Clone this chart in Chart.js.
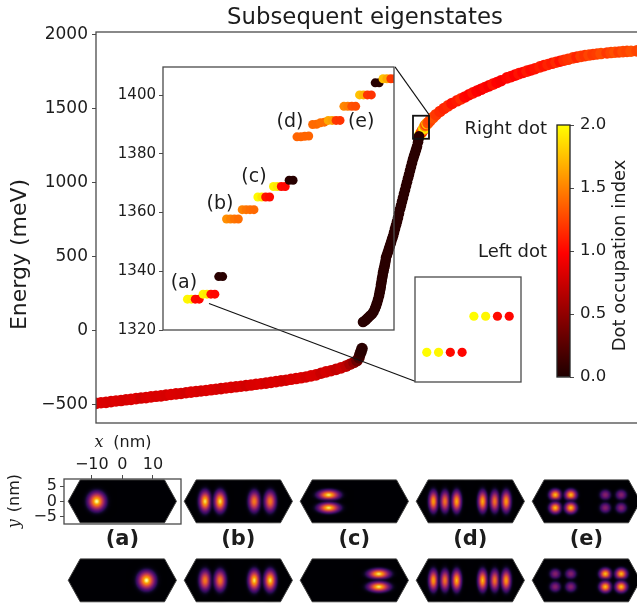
<!DOCTYPE html>
<html>
<head>
<meta charset="utf-8">
<title>Subsequent eigenstates</title>
<script src="https://cdn.jsdelivr.net/npm/chart.js@4"></script>
<style>
html, body { margin:0; padding:0; background:#fff; overflow:hidden; }
#stage { position:relative; width:637px; height:606px; overflow:hidden; }
#stage canvas { position:absolute; }
</style>
</head>
<body>
<div id="stage"></div>
<script>
// ── Main curve: state index, energy (meV), occupation index ──
var lowerIdx = [0,5,10,15,20,25,30,35,40,45,50,55,60,65,70,75,80,85,90,95,100,105,110,115,120,125,130,135,140,145,150,155,160,165,170,175,180,185,190,195,200,205,210,215,220,225,230,235,240,245,250,254,258,261,263,264,265,266];
var lowerEnergy = [-495,-491,-488,-483,-479,-476,-471,-468,-463,-459,-456,-451,-447,-444,-439,-435,-431,-428,-423,-419,-415,-411,-408,-403,-399,-395,-391,-387,-383,-379,-375,-371,-366,-362,-358,-353,-348,-343,-338,-332,-327,-322,-316,-309,-302,-291,-282,-274,-265,-255,-243,-230,-218,-205,-185,-163,-145,-124];
var lowerOcc = [.82,.83,.82,.81,.83,.82,.8,.82,.83,.78,.82,.83,.81,.82,.8,.83,.82,.81,.79,.83,.82,.8,.82,.83,.81,.79,.82,.83,.8,.82,.78,.81,.82,.83,.79,.81,.82,.8,.78,.82,.81,.83,.79,.82,.8,.75,.8,.78,.72,.76,.7,.6,.5,.35,.2,.1,.06,.05];

var riseIdx = [267,268.5,270,272,274,276,277.5,279,280,281,
    282,283,283.5,284,284.7,285,285.6,286,286.6,287,
    287.6,288,288.6,289,289.6,290,291,292,293,294,
    295,296,297,298,299,300,301,302,303,304,
    305,306,307,308,309,310,311,312,313,314,
    315,316,317,318,319,320,321,322,322.5,323];
var riseEnergy = [56,62,72,85,98,110,125,148,165,185,
    208,232,250,270,290,310,330,350,370,390,
    405,420,435,450,470,493,512,532,553,574,
    595,616,637,662,688,712,737,762,790,820,
    845,872,898,925,950,977,1003,1030,1055,1082,
    1108,1132,1158,1180,1200,1222,1245,1274,1295,1314];
var riseOcc = [.05,.05,.05,.05,.05,.05,.05,.05,.05,.05,
    .05,.05,.05,.05,.05,.05,.05,.05,.05,.05,
    .05,.05,.05,.05,.05,.05,.05,.05,.05,.05,
    .05,.05,.05,.05,.05,.05,.05,.05,.05,.05,
    .05,.05,.05,.05,.05,.05,.05,.05,.05,.05,
    .05,.05,.05,.05,.05,.05,.05,.05,.05,.05];

var upperIdx = [324,325,326,327,328,329,330,331,332,334,337,340,344,348,352,356,361,365,369,373,377,381,385,389,393,397,401,405,411,415,419,423,427,431,435,439,444,448,452,456,460,464,468,472,477,481,485,489,493,497,501,505,511,515,519,523,527,531,535,541,546,552];
var upperEnergy = [1325,1333,1345,1357,1368,1385,1392,1400,1405,1420,1440,1460,1482,1502,1520,1536,1554,1567,1580,1595,1608,1620,1632,1644,1655,1667,1678,1690,1709,1718,1728,1738,1746,1755,1763,1771,1784,1792,1800,1808,1815,1822,1829,1835,1845,1850,1855,1860,1864,1868,1871,1874,1878,1881,1883,1885,1887,1889,1890,1892,1896,1900];
var upperOcc = [1.95,1.9,1.0,1.5,1.9,1.5,1.25,1.75,1.3,1.25,1.3,1.2,1.15,1.12,1.15,1.05,1.08,1.15,1.0,.98,1.05,.98,.95,1.0,.95,1.05,.98,.95,1.0,1.02,.97,1.05,1.0,1.08,1.02,1.05,1.1,1.05,1.12,1.08,1.15,1.05,1.15,1.18,1.2,1.12,1.22,1.18,1.25,1.2,1.22,1.28,1.2,1.25,1.3,1.22,1.28,1.25,1.3,1.25,1.3,1.25];

var energyTicks = [-500,0,500,1000,1500,2000];

// ── Zoom inset: consecutive states around 1330–1405 meV ──
var zoomIdx = [6,7,8,9,10,11,12,13,14,15,16,17,18,19,20,21,22,23,24,25,26,27,28,29,30,31,32,33,34,35,36,37,38,39,40,41,42,43,44,45,46,47,48,49,50,51,52,53,54,55,56,57,58,59];
var zoomEnergy = [1330.5,1330.5,1330.5,1330.5,1332.2,1332.2,1332.2,1332.2,1338.2,1338.2,1357.8,1357.8,1357.8,1357.8,1361,1361,1361,1361,1365.3,1365.3,1365.3,1365.3,1368.9,1368.9,1368.9,1368.9,1371,1371,1385.8,1385.8,1386,1386.1,1390,1390.1,1390.6,1390.8,1391.4,1391.4,1391.4,1391.4,1396.2,1396.2,1396.2,1396.2,1400.1,1400.1,1400.1,1400.1,1404.2,1404.2,1405.6,1405.6,1405.6,1405.6];
var zoomOcc = [1.97,1.95,1.02,1.0,1.95,1.92,1.03,1.0,.05,.05,1.55,1.5,1.45,1.42,1.5,1.45,1.42,1.4,1.98,1.9,1.05,1.02,1.95,1.9,1.02,1.0,.04,.04,1.38,1.38,1.38,1.38,1.4,1.4,1.42,1.42,1.65,1.62,1.2,1.18,1.52,1.48,1.3,1.28,1.75,1.7,1.2,1.18,.04,.04,1.75,1.65,1.22,1.2];
var zoomTicks = [1320,1340,1360,1380,1400];

// ── Second inset: the eight states of (a) ──
var pairIdx = [0,1,2,3,4,5,6,7];
var pairEnergy = [1330.5,1330.5,1330.5,1330.5,1332.2,1332.2,1332.2,1332.2];
var pairOcc = [1.99,1.97,1.02,1.0,1.99,1.97,1.02,1.0];

var colorbarTicks = [0,0.5,1,1.5,2];
var panelXTicks = [-10,0,10];
var panelYTicks = [-5,0,5];

// ── Density lobes of each panel: x (nm), y (nm), peak ──
var hexagon = [[-17.7,0],[-13.8,7],[13.8,7],[17.7,0],[13.8,-7],[-13.8,-7],[-17.7,0]];
var lobesA1 = [[-8.4,0,1]];
var lobesA2 = [[7.9,0,1]];
var lobesB1 = [[-10.9,0,.97],[-6,0,.97],[5.2,0,.8],[10.4,0,.8]];
var lobesB2 = [[-10.9,0,.8],[-6,0,.8],[5.2,0,.97],[10.4,0,.97]];
var lobesC1 = [[-8.4,2.1,.98],[-8.4,-2.1,.98]];
var lobesC2 = [[8,2.1,.98],[8,-2.1,.98]];
var lobesD1 = [[-12.1,0,.88],[-8.3,0,.78],[-4.5,0,.9],[4,0,.9],[8,0,.78],[11.7,0,.88]];
var lobesD2 = [[-12.1,0,.88],[-8.3,0,.78],[-4.5,0,.92],[4,0,.92],[8,0,.78],[11.7,0,.88]];
var lobesE1 = [[-10.2,2.1,.93],[-5.1,2.1,.93],[-10.2,-2.1,.93],[-5.1,-2.1,.93],[6.2,2.1,.42],[11.4,2.1,.42],[6.2,-2.1,.42],[11.4,-2.1,.42]];
var lobesE2 = [[-10.2,2.1,.42],[-5.1,2.1,.42],[-10.2,-2.1,.42],[-5.1,-2.1,.42],[6.2,2.1,.93],[11.4,2.1,.93],[6.2,-2.1,.93],[11.4,-2.1,.93]];

Chart.defaults.font.family = "'DejaVu Sans'";
Chart.defaults.color = '#1c1c1c';
Chart.defaults.animation = false;
Chart.defaults.responsive = false;
Chart.defaults.layout.autoPadding = false;
Chart.defaults.plugins.legend.display = false;
Chart.defaults.plugins.tooltip.enabled = false;

var FRAME = '#4a4a4a';
var stage = document.getElementById('stage');

function minusSign(v) { return String(v).replace('-', '\u2212'); }

// colormap "hot" cortado en amarillo
function hotColor(v) {
    var r = v >= .98 ? 255 : Math.round(30 + 225 * v / .98);
    var g = v <= .98 ? 0 : Math.round(255 * (v - .98) / 1.02);
    return 'rgb(' + r + ',' + g + ',0)';
}

function pointsOf(xs, ys) {
    return xs.map(function(x, i) { return { x: x, y: ys[i] }; });
}

function addCanvas(left, top, w, h) {
    var c = document.createElement('canvas');
    c.width = w; c.height = h;
    c.style.left = left + 'px'; c.style.top = top + 'px';
    c.style.width = w + 'px'; c.style.height = h + 'px';
    stage.appendChild(c);
    return c;
}

function setTicks(values) {
    return function(scale) {
        scale.ticks = values.map(function(v) { return { value: v }; });
    };
}

// ── Plugins: frame round the axes, free text in data coordinates ──
function framePlugin(color) {
    return {
        id: 'frame',
        afterDatasetsDraw: function(chart) {
            var a = chart.chartArea, ctx = chart.ctx;
            ctx.save();
            ctx.strokeStyle = color; ctx.lineWidth = 1.3;
            ctx.strokeRect(a.left, a.top, a.right - a.left, a.bottom - a.top);
            ctx.restore();
        }
    };
}

function textPlugin(items) {
    return {
        id: 'texts',
        afterDatasetsDraw: function(chart) {
            var ctx = chart.ctx;
            items.forEach(function(t) {
                var px = chart.scales.x.getPixelForValue(t.x);
                var py = chart.scales.y.getPixelForValue(t.y);
                ctx.save();
                ctx.font = t.font;
                ctx.fillStyle = '#1c1c1c';
                ctx.textAlign = t.align || 'center';
                ctx.textBaseline = 'middle';
                ctx.translate(px, py);
                if (t.rot) ctx.rotate(t.rot);
                ctx.fillText(t.text, 0, 0);
                ctx.restore();
            });
        }
    };
}

// lupa y líneas guía sobre la curva principal
function lensPlugin() {
    var box = { x0: 317, x1: 333, y0: 1297, y1: 1453 };
    var guides = [
        [[299, 1784], [333, 1460]],
        [[113, 182], [319, -345]]
    ];
    return {
        id: 'lens',
        afterDatasetsDraw: function(chart) {
            var sx = chart.scales.x, sy = chart.scales.y, ctx = chart.ctx;
            ctx.save();
            ctx.strokeStyle = '#111'; ctx.lineWidth = 1.1;
            guides.forEach(function(g) {
                ctx.beginPath();
                ctx.moveTo(sx.getPixelForValue(g[0][0]), sy.getPixelForValue(g[0][1]));
                ctx.lineTo(sx.getPixelForValue(g[1][0]), sy.getPixelForValue(g[1][1]));
                ctx.stroke();
            });
            ctx.lineWidth = 1.8;
            ctx.strokeRect(sx.getPixelForValue(box.x0), sy.getPixelForValue(box.y1),
                sx.getPixelForValue(box.x1) - sx.getPixelForValue(box.x0),
                sy.getPixelForValue(box.y0) - sy.getPixelForValue(box.y1));
            ctx.restore();
        }
    };
}

function hiddenX(min, max) {
    return { type: 'linear', display: false, min: min, max: max };
}

function valueAxis(min, max, tickVals, labelSize, width, extra) {
    var axis = {
        type: 'linear', min: min, max: max,
        grid: { display: true, drawOnChartArea: false, drawTicks: true, tickLength: 4, color: FRAME, tickWidth: 1 },
        border: { display: false },
        ticks: { font: { size: labelSize }, padding: 3, autoSkip: false, maxRotation: 0, callback: minusSign },
        afterBuildTicks: setTicks(tickVals),
        afterFit: function(scale) { scale.width = width; }
    };
    for (var k in extra) axis[k] = extra[k];
    return axis;
}

// ── Chart principal ──
var mainAxis = valueAxis(-628, 2020, energyTicks, 17, 96);
mainAxis.ticks.padding = 4;
new Chart(addCanvas(0, 0, 730, 440), {
    type: 'scatter',
    data: { datasets: [
        { data: pointsOf(lowerIdx, lowerEnergy), pointBackgroundColor: lowerOcc.map(hotColor), pointRadius: 5.8, pointBorderWidth: 0, clip: 0 },
        { data: pointsOf(riseIdx, riseEnergy), pointBackgroundColor: riseOcc.map(hotColor), pointRadius: 5.3, pointBorderWidth: 0, clip: 0 },
        { data: pointsOf(upperIdx, upperEnergy), pointBackgroundColor: upperOcc.map(hotColor), pointRadius: 5.8, pointBorderWidth: 0, clip: 0 }
    ] },
    options: {
        layout: { padding: { top: 32, right: 80, bottom: 17 } },
        scales: {
            x: hiddenX(0, 554),
            y: mainAxis
        }
    },
    plugins: [framePlugin(FRAME), lensPlugin(), textPlugin([
        { x: 269, y: 2115, text: 'Subsequent eigenstates', font: "22.8px 'DejaVu Sans'" },
        { x: -76, y: 513, text: 'Energy (meV)', font: "22px 'DejaVu Sans'", rot: -Math.PI / 2 },
        { x: 451, y: 1360, text: 'Right dot', font: "18px 'DejaVu Sans'", align: 'right' },
        { x: 451, y: 528, text: 'Left dot', font: "18px 'DejaVu Sans'", align: 'right' },
        { x: 524, y: 507, text: 'Dot occupation index', font: "18px 'DejaVu Sans'", rot: -Math.PI / 2 }
    ])]
});

// ── Inset de zoom ──
new Chart(addCanvas(100, 52, 300, 291), {
    type: 'scatter',
    data: { datasets: [
        { data: pointsOf(zoomIdx, zoomEnergy), pointBackgroundColor: zoomOcc.map(hotColor), pointRadius: 4.5, pointBorderWidth: 0, clip: 0 }
    ] },
    options: {
        layout: { padding: { top: 15, right: 6, bottom: 13 } },
        scales: {
            x: hiddenX(-0.25, 58.8),
            y: valueAxis(1320, 1409.6, zoomTicks, 15, 63)
        }
    },
    plugins: [framePlugin(FRAME), textPlugin([
        { x: 5.1, y: 1336, text: '(a)', font: "19px 'DejaVu Sans'" },
        { x: 14.3, y: 1362.9, text: '(b)', font: "19px 'DejaVu Sans'" },
        { x: 23, y: 1372.1, text: '(c)', font: "19px 'DejaVu Sans'" },
        { x: 32.2, y: 1390.9, text: '(d)', font: "19px 'DejaVu Sans'" },
        { x: 50.4, y: 1390.9, text: '(e)', font: "19px 'DejaVu Sans'" }
    ])]
});

// ── Inset de los cuatro pares ──
new Chart(addCanvas(413, 275, 110, 109), {
    type: 'scatter',
    data: { datasets: [
        { data: pointsOf(pairIdx, pairEnergy), pointBackgroundColor: pairOcc.map(hotColor), pointRadius: 4.6, pointBorderWidth: 0 }
    ] },
    options: {
        layout: { padding: { top: 2, right: 2, bottom: 2, left: 2 } },
        scales: {
            x: hiddenX(-1, 8),
            y: { type: 'linear', display: false, min: 1329.1, max: 1334.05 }
        }
    },
    plugins: [framePlugin(FRAME)]
});

// ── Barra de color ──
new Chart(addCanvas(545, 105, 92, 292), {
    type: 'bar',
    data: { labels: ['occupation'], datasets: [{
        data: [[0, 2]],
        barPercentage: 1, categoryPercentage: 1,
        backgroundColor: function(ctx) {
            var a = ctx.chart.chartArea;
            if (!a) return '#000';
            var g = ctx.chart.ctx.createLinearGradient(0, a.bottom, 0, a.top);
            g.addColorStop(0, hotColor(0));
            g.addColorStop(.49, hotColor(.98));
            g.addColorStop(1, hotColor(2));
            return g;
        }
    }] },
    options: {
        layout: { padding: { top: 20, left: 12, bottom: 20 } },
        scales: {
            x: { type: 'category', display: false },
            y: (function() {
                var axis = valueAxis(0, 2, colorbarTicks, 16.5, 67, { position: 'right' });
                axis.ticks.padding = 6;
                axis.ticks.callback = function(v) { return v.toFixed(1); };
                return axis;
            })()
        }
    },
    plugins: [framePlugin('#222')]
});

// ── Paneles de densidad ──
var infernoStops = [[0,0,0,4],[.13,27,12,65],[.25,74,12,107],[.38,120,28,109],[.5,165,44,96],[.63,207,68,70],[.75,237,105,37],[.88,251,155,6],[.95,247,209,61],[1,252,255,164]];

function inferno(t) {
    for (var i = 1; i < infernoStops.length; i++) {
        if (t <= infernoStops[i][0]) {
            var a = infernoStops[i - 1], b = infernoStops[i], f = (t - a[0]) / (b[0] - a[0]);
            return [a[1] + (b[1] - a[1]) * f, a[2] + (b[2] - a[2]) * f, a[3] + (b[3] - a[3]) * f];
        }
    }
    return infernoStops[infernoStops.length - 1].slice(1);
}

// sprite gaussiano para usar como pointStyle
function lobeSprite(peak, sx, sy) {
    var w = Math.ceil(sx * 7) | 1, h = Math.ceil(sy * 7) | 1;
    var c = document.createElement('canvas');
    c.width = w; c.height = h;
    var g = c.getContext('2d'), img = g.createImageData(w, h);
    for (var j = 0; j < h; j++) {
        for (var i = 0; i < w; i++) {
            var dx = (i - (w - 1) / 2) / sx, dy = (j - (h - 1) / 2) / sy;
            var v = peak * Math.exp(-(dx * dx + dy * dy) / 2);
            var col = inferno(v), o = (j * w + i) * 4;
            img.data[o] = col[0]; img.data[o + 1] = col[1]; img.data[o + 2] = col[2];
            img.data[o + 3] = Math.min(255, v * 1500);
        }
    }
    g.putImageData(img, 0, 0);
    return c;
}

var NM_X = 3.05, NM_Y = 3.07;

function addPanel(cx, areaTop, lobes, sxNm, syNm, label, withAxes) {
    var areaW = 117, areaH = 45, labelH = label ? 30 : 2;
    var left = withAxes ? 0 : Math.round(cx - areaW / 2);
    var top = withAxes ? areaTop - 49 : areaTop;
    var w = withAxes ? Math.round(cx + areaW / 2) + 3 : areaW + 1;
    var h = (withAxes ? 49 : 0) + areaH + labelH;
    var scalesCfg;
    var texts = [];
    if (label) texts.push({ x: 0, y: -12.6, text: label, font: "bold 21px 'DejaVu Sans'" });
    if (withAxes) {
        scalesCfg = {
            x: {
                type: 'linear', position: 'top', min: -19.1, max: 19.2,
                grid: { display: true, drawOnChartArea: false, tickLength: 4, color: FRAME },
                border: { display: false },
                ticks: { font: { size: 16 }, padding: 1, autoSkip: false, maxRotation: 0, callback: minusSign },
                afterBuildTicks: setTicks(panelXTicks),
                afterFit: function(s) { s.height = 49; }
            },
            y: valueAxis(-7.4, 7.3, panelYTicks, 16, 64)
        };
        texts.push({ x: -7.6, y: 19, text: 'x', font: "italic 16px 'DejaVu Serif'" });
        texts.push({ x: 3.3, y: 19, text: '(nm)', font: "16px 'DejaVu Sans'" });
        texts.push({ x: -35.2, y: -7.3, text: 'y', font: "italic 16px 'DejaVu Serif'", rot: -Math.PI / 2 });
        texts.push({ x: -35.2, y: 2.7, text: '(nm)', font: "16px 'DejaVu Sans'", rot: -Math.PI / 2 });
    } else {
        scalesCfg = {
            x: hiddenX(-19.1, 19.2),
            y: { type: 'linear', display: false, min: -7.4, max: 7.3 }
        };
    }
    new Chart(addCanvas(left, top, w, h), {
        type: 'scatter',
        data: { datasets: [
            {
                data: lobes.map(function(l) { return { x: l[0], y: l[1] }; }),
                pointStyle: lobes.map(function(l) { return lobeSprite(l[2], sxNm * NM_X, syNm * NM_Y); }),
                pointRadius: 6
            },
            {
                data: hexagon.map(function(p) { return { x: p[0], y: p[1] }; }),
                showLine: true, fill: 'shape', tension: 0,
                backgroundColor: '#000004', borderColor: '#3a3a3a', borderWidth: 1, pointRadius: 0
            }
        ] },
        options: {
            layout: { padding: { top: 0, right: withAxes ? 3 : 1, bottom: labelH, left: 0 } },
            scales: scalesCfg
        },
        plugins: (withAxes ? [framePlugin(FRAME)] : []).concat([textPlugin(texts)])
    });
}

var columnX = [122.3, 238.3, 354.5, 470.5, 586.5];
var ROW1 = 479, ROW2 = 558;

addPanel(columnX[0], ROW1, lobesA1, 1.85, 1.95, '(a)', true);
addPanel(columnX[1], ROW1, lobesB1, 1.25, 2.2, '(b)');
addPanel(columnX[2], ROW1, lobesC1, 2.3, 1.05, '(c)');
addPanel(columnX[3], ROW1, lobesD1, 1, 2.2, '(d)');
addPanel(columnX[4], ROW1, lobesE1, 1.25, 1.15, '(e)');

addPanel(columnX[0], ROW2, lobesA2, 1.85, 1.95);
addPanel(columnX[1], ROW2, lobesB2, 1.25, 2.2);
addPanel(columnX[2], ROW2, lobesC2, 2.3, 1.05);
addPanel(columnX[3], ROW2, lobesD2, 1, 2.2);
addPanel(columnX[4], ROW2, lobesE2, 1.25, 1.15);
</script>
</body>
</html>
